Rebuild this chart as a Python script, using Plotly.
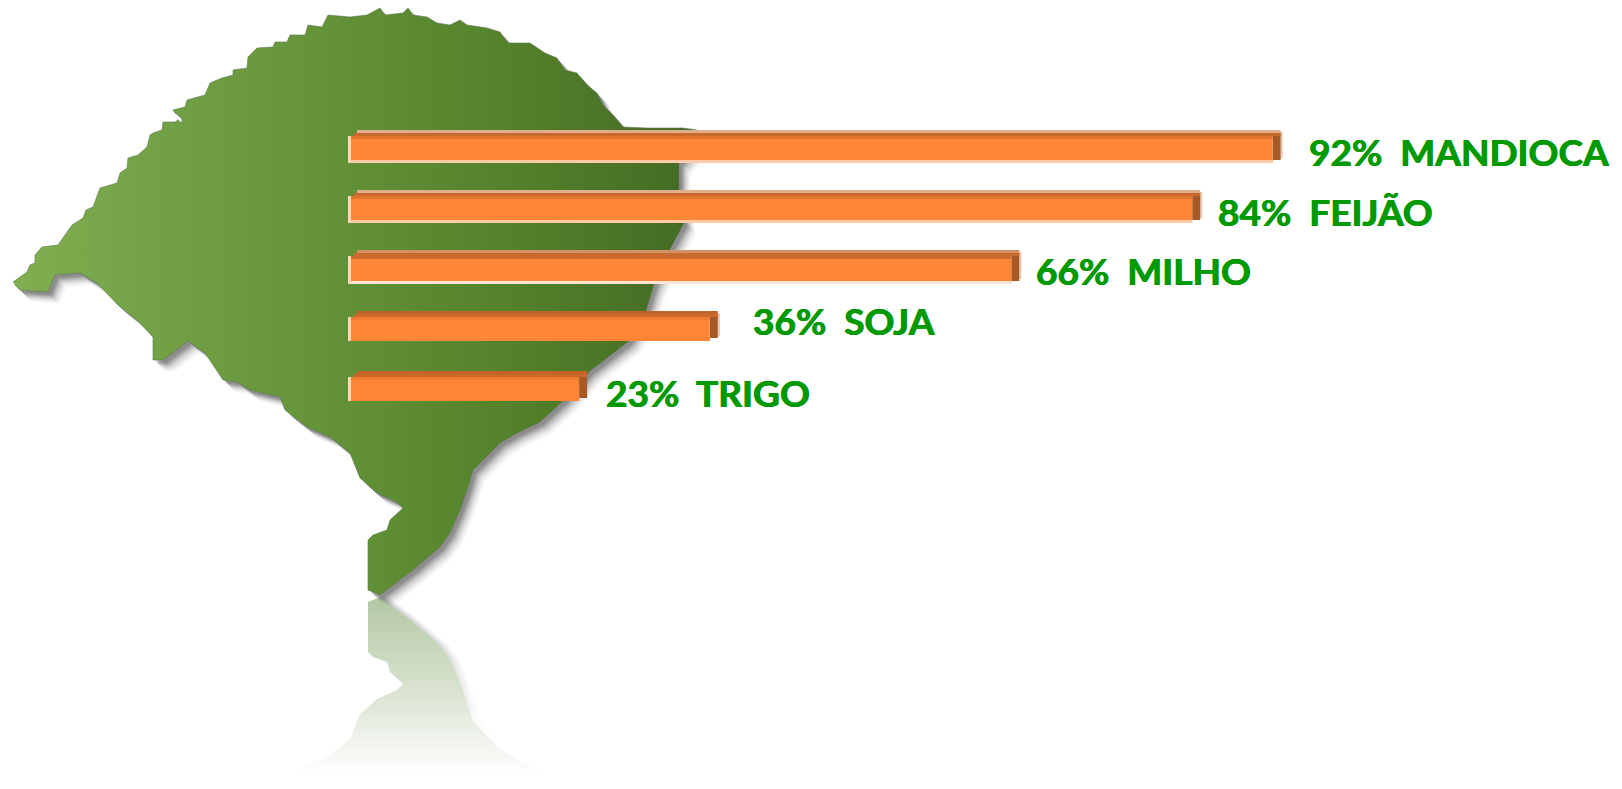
import plotly.graph_objects as go
import numpy as np

W, H = 1622, 789

# ---- data ----
crops = ["MANDIOCA", "FEIJÃO", "MILHO", "SOJA", "TRIGO"]
percent = [92, 84, 66, 36, 23]

# state silhouette outline (page pixels)
map_x = [13,27,30,35,35,42,58,65,72,83,86,93,98,100,117,120,127,128,138,147,150,153,162,163,175,178,182,182,175,173,185,187,205,210,222,233,233,247,248,257,273,275,287,290,305,308,322,328,350,367,380,385,403,408,413,427,437,450,460,467,487,500,508,530,545,557,565,577,587,597,603,613,623,647,683,697,
         690,679,679,684,670,654,646,629,590,563,540,517,500,483,473,467,460,450,440,413,380,
         368,368,373,387,390,403,397,377,360,355,350,330,307,285,280,250,237,223,205,188,163,153,153,137,118,97,80,55,48,20,15]
map_y = [282,272,265,263,255,247,245,235,225,218,210,207,193,188,183,173,168,158,155,147,135,133,130,122,122,120,123,118,113,110,107,100,95,83,78,75,70,68,57,48,47,42,42,35,35,25,27,15,17,15,8,15,13,8,15,17,23,25,20,25,28,32,43,43,53,58,70,73,85,93,105,115,127,128,128,130,
         150,163,190,223,249,284,311,341,371,401,422,433,443,460,470,490,510,533,547,570,595,
         590,540,535,530,520,508,502,493,478,465,453,437,427,410,397,390,382,380,353,341,360,360,337,320,305,283,273,275,292,290,285]

# ---- layout helpers (not data) ----
BASE_PX, PX_PER_PCT = 348, 10.05
ROW0_PX, ROW_PX = 146, 60.25
bar_top_px = [130, 190, 250, 311, 371]
bar_bot_px = [163, 223, 284, 341, 401]
top_hi = ["#dfae8c", "#dfae8c", "#d29266", "#c16428", "#c16428"]
strip = ["#df752f", "#df752f", "#c86a2c", "#ee7d33", "#ee7d33"]
bot_hi = ["#ffcba6", "#ffcba6", "#ffe6d4", "#ff8636", "#ff8636"]
label_dx = [34, 24, 23, 41, 25]
label_dy = [5, 5.5, 4, -6.5, 5]

mx, my = np.array(map_x, float), np.array(map_y, float)
fig = go.Figure()

# reflection
MIRROR = 596
keep = my >= 400
rx, ry = mx[keep], 2 * MIRROR - my[keep]
for d, a in [(9, .05), (7, .07), (5, .09), (3, .11)]:
    fig.add_trace(go.Scatter(x=rx + d, y=ry, mode="lines", line=dict(width=0), fill="toself",
                             fillgradient=dict(type="vertical", start=600, stop=740,
                                               colorscale=[[0, f"rgba(90,90,90,{a})"], [1, "rgba(120,120,120,0)"]]),
                             hoverinfo="skip", showlegend=False))
fig.add_trace(go.Scatter(x=rx, y=ry, mode="lines", line=dict(width=0), fill="toself",
                         fillgradient=dict(type="vertical", start=600, stop=775,
                                           colorscale=[[0, "#b4c8a4"], [0.5, "#d8e2cf"], [0.85, "#f4f6f1"], [1, "#ffffff"]]),
                         hoverinfo="skip", showlegend=False))
# soft shadow
for d, a in [(12, .025), (11, .03), (10, .04), (9, .05), (8, .06), (7, .08), (6, .10), (5, .12), (4, .14), (3, .16)]:
    fig.add_trace(go.Scatter(x=mx + d, y=my + d, mode="lines", line=dict(width=0), fill="toself",
                             fillcolor=f"rgba(60,60,60,{a})", hoverinfo="skip", showlegend=False))
# state
fig.add_trace(go.Scatter(x=mx, y=my, mode="lines", line=dict(width=1, color="rgba(95,120,80,.6)"), fill="toself",
                         fillgradient=dict(type="horizontal", start=13, stop=690,
                                           colorscale=[[0, "#80ae50"], [0.45, "#64933a"], [0.7, "#56842c"], [1, "#446b24"]]),
                         hoverinfo="skip", showlegend=False))


def layer(left, right, top, bot, color):
    """One slab of a 3-D looking bar; left/right in percent, top/bottom in pixels."""
    centre = [ROW0_PX + ROW_PX * i for i in range(len(crops))]
    fig.add_trace(go.Bar(orientation="h", y=crops, base=left, x=np.array(right) - np.array(left),
                         width=[(b - t) / ROW_PX for t, b in zip(top, bot)],
                         offset=[(t - c) / ROW_PX for t, c in zip(top, centre)],
                         marker=dict(color=color, line=dict(width=0)), xaxis="x2", yaxis="y2",
                         hoverinfo="skip", showlegend=False))


v = np.array(percent, float)
t = np.array(bar_top_px, float)
b = np.array(bar_bot_px, float)
z = np.zeros(len(v))
depth = 8 / PX_PER_PCT
px = 1 / PX_PER_PCT
# right outer highlight, right face
layer(v + depth, v + depth + 2 * px, t + 2, b - 5, ["#e8c5ad"] * 4 + ["rgba(0,0,0,0)"])
layer(v, v + depth, t + 3, b - 3, "#a65a25")
# top face
layer(z + 9 * px, v + depth, t, t + 3, top_hi)
layer(z + 6 * px, v + depth, t + 3, t + 6, "#c96a2c")
# front face
layer(z, v, t + 6, b, "#ff8636")
layer(z + 3 * px, v, t + 6, t + 9, strip)
layer(z, v, b - 3, b, bot_hi)
layer(z, z + 3 * px, t + 6, b, "#ffd6b8")

for name, val, dx, dy in zip(crops, percent, label_dx, label_dy):
    fig.add_annotation(x=val, y=name, xref="x2", yref="y2", xanchor="left", yanchor="middle",
                       xshift=dx, yshift=-dy, showarrow=False,
                       text=f"{val}%\u00a0\u00a0{name}",
                       font=dict(family="Lato", size=37, color="#009900", weight="bold",
                                 shadow="0.5px 0 0 #009900, -0.5px 0 0 #009900"))

blank = dict(visible=False, fixedrange=True)
fig.update_layout(
    width=W, height=H, margin=dict(l=0, r=0, t=0, b=0), paper_bgcolor="white", plot_bgcolor="white",
    barmode="overlay", showlegend=False,
    xaxis=dict(range=[0, W], **blank), yaxis=dict(range=[H, 0], **blank),
    xaxis2=dict(range=[-BASE_PX / PX_PER_PCT, (W - BASE_PX) / PX_PER_PCT], overlaying="x", **blank),
    yaxis2=dict(type="category", categoryorder="array", categoryarray=crops, overlaying="y",
                range=[(H - ROW0_PX) / ROW_PX, -ROW0_PX / ROW_PX], **blank),
)
fig.write_html("out.html", config=dict(displayModeBar=False),
               post_script="document.body.style.margin='0';document.body.style.overflow='hidden';")
